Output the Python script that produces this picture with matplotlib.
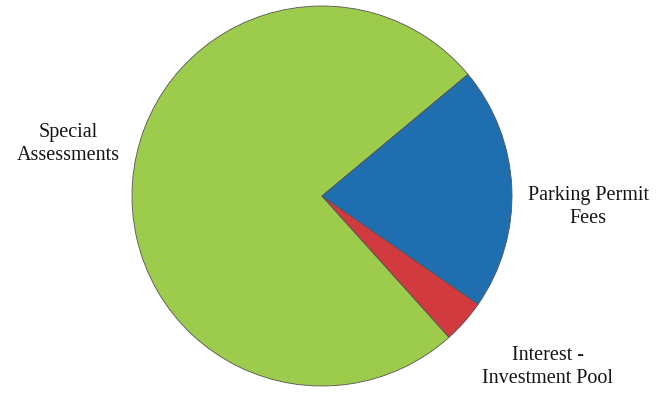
import matplotlib.pyplot as plt

# slices in drawing order (counter-clockwise from start angle)
labels = ['Special\nAssessments', 'Interest -\nInvestment Pool', 'Parking Permit\nFees']
values = [75.6, 3.7, 20.7]
colors = ['#9dcb4c', '#d13a3f', '#1f6eb0']

plt.rcParams['font.family'] = ['Liberation Serif', 'DejaVu Serif']

fig = plt.figure(figsize=(6.6, 3.93), dpi=100)
W, H = 660, 393
cx, cy, r = 322, 196, 190
ax = fig.add_axes([(cx - r) / W, (H - cy - r) / H, 2 * r / W, 2 * r / H])
ax.pie(values, colors=colors, startangle=39.8, counterclock=True,
       wedgeprops=dict(edgecolor='#555555', linewidth=0.6))
ax.set_xlim(-1, 1)
ax.set_ylim(-1, 1)
ax.set_aspect('equal')
ax.axis('off')

# label positions (pixel centres)
label_pos = [(68, 144), (548, 367), (588, 207)]
for lab, (px, py) in zip(labels, label_pos):
    fig.text(px / W, 1 - py / H, lab, ha='center', va='center',
             fontsize=14.5, color='#141414', linespacing=1.3)

fig.savefig('out.png', dpi=100)
